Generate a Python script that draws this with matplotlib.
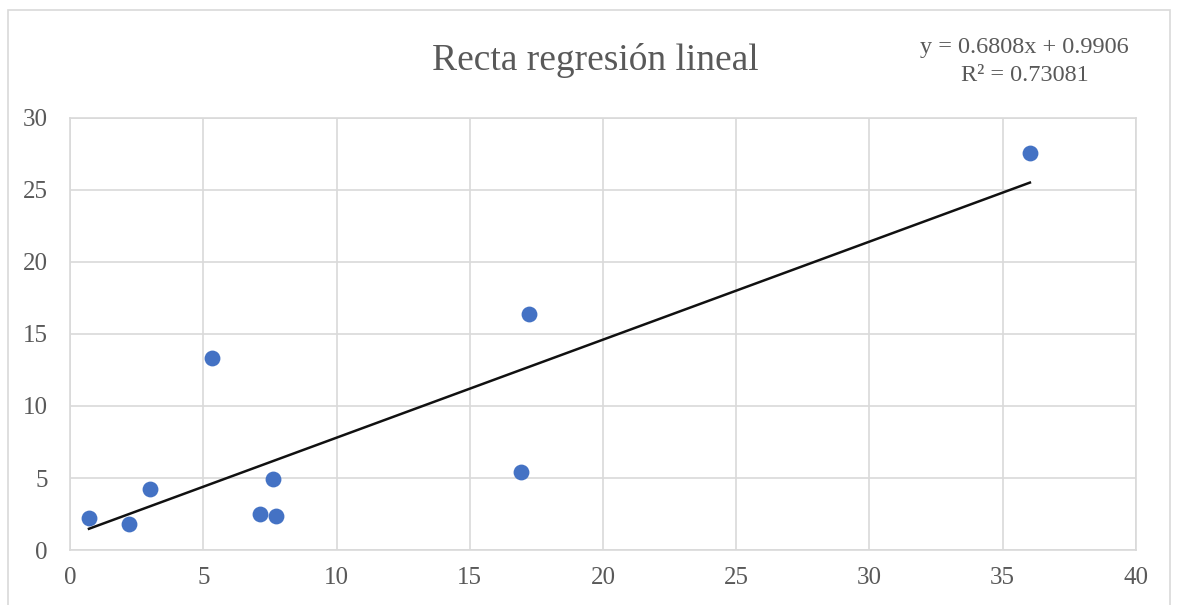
import numpy as np
import matplotlib.pyplot as plt
from matplotlib.patches import Rectangle

plt.rcParams['font.family'] = ['Liberation Serif', 'DejaVu Serif']

x = [0.71, 2.21, 3.0, 5.33, 7.13, 7.62, 7.73, 16.92, 17.22, 36.02]
y = [2.22, 1.80, 4.24, 13.33, 2.50, 4.93, 2.36, 5.42, 16.39, 27.57]
slope = 0.6808
intercept = 0.9906
r2_text = "R² = 0.73081"
eq_text = "y = 0.6808x + 0.9906"

fig = plt.figure(figsize=(11.79, 6.05), dpi=100)
ax = fig.add_axes([0.0594, 0.0909, 0.9041, 0.7141])

grid_c = '#d9d9d9'
text_c = '#595959'

xs = np.array([min(x), max(x)])
ax.plot(xs, slope * xs + intercept, color='#111111', lw=1.8, zorder=2)
ax.scatter(x, y, s=130, color='#4472c4', zorder=3, linewidths=0)

ax.set_xlim(0, 40)
ax.set_ylim(0, 30)
ax.set_xticks(range(0, 41, 5))
ax.set_yticks(range(0, 31, 5))
ax.grid(True, color=grid_c, lw=1.2)
ax.set_axisbelow(True)
for s in ax.spines.values():
    s.set_color(grid_c)
    s.set_linewidth(1.2)
ax.tick_params(length=0, labelsize=18, colors=text_c)
ax.tick_params(axis='y', pad=16)
ax.tick_params(axis='x', pad=12)

fig.text(0.505, 0.90, "Recta regresión lineal", ha='center', va='center',
         fontsize=27, color=text_c)
fig.text(0.869, 0.922, eq_text, ha='center', va='center', fontsize=17.5, color=text_c)
fig.text(0.869, 0.876, r2_text, ha='center', va='center', fontsize=17.5, color=text_c)

fig.patches.append(Rectangle((8 / 1179, -0.05), 1162 / 1179, 1.0 - 10 / 605 + 0.05,
                             transform=fig.transFigure, fill=False,
                             edgecolor=grid_c, lw=1.2, clip_on=False))

fig.savefig('out.png', dpi=100)
